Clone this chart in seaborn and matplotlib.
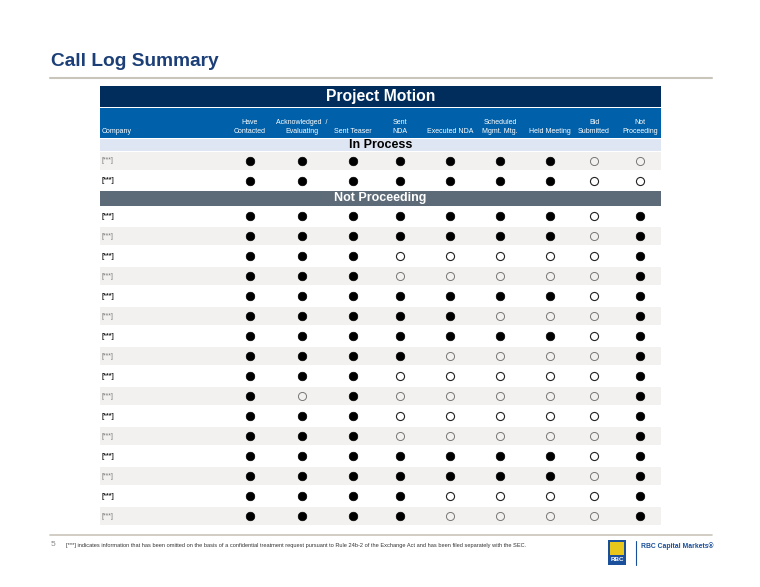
import matplotlib
matplotlib.use("Agg")
import matplotlib.pyplot as plt
import pandas as pd
import seaborn as sns
from matplotlib.patches import Rectangle

# --- data -----------------------------------------------------------------
stages = ["Have\nContacted", "Acknowledged  /\nEvaluating", "Sent Teaser",
          "Sent\nNDA", "Executed NDA", "Scheduled\nMgmt. Mtg.", "Held Meeting",
          "Bid\nSubmitted", "Not\nProceeding"]

company = "[***]"

# 1 = step reached (filled dot), 0 = not reached (open circle)
in_process = [
    [1, 1, 1, 1, 1, 1, 1, 0, 0],
    [1, 1, 1, 1, 1, 1, 1, 0, 0],
]
not_proceeding = [
    [1, 1, 1, 1, 1, 1, 1, 0, 1],
    [1, 1, 1, 1, 1, 1, 1, 0, 1],
    [1, 1, 1, 0, 0, 0, 0, 0, 1],
    [1, 1, 1, 0, 0, 0, 0, 0, 1],
    [1, 1, 1, 1, 1, 1, 1, 0, 1],
    [1, 1, 1, 1, 1, 0, 0, 0, 1],
    [1, 1, 1, 1, 1, 1, 1, 0, 1],
    [1, 1, 1, 1, 0, 0, 0, 0, 1],
    [1, 1, 1, 0, 0, 0, 0, 0, 1],
    [1, 0, 1, 0, 0, 0, 0, 0, 1],
    [1, 1, 1, 0, 0, 0, 0, 0, 1],
    [1, 1, 1, 0, 0, 0, 0, 0, 1],
    [1, 1, 1, 1, 1, 1, 1, 0, 1],
    [1, 1, 1, 1, 1, 1, 1, 0, 1],
    [1, 1, 1, 1, 0, 0, 0, 0, 1],
    [1, 1, 1, 1, 0, 0, 0, 0, 1],
]

# --- layout (pixels) ------------------------------------------------------
col_x = [250, 302, 353, 400, 450, 500, 550, 594, 640]
tbl_l, tbl_r = 100, 661
row_h = 20
ip_top = 151      # first "In Process" row top
np_top = 206      # first "Not Proceeding" row top

NAVY = "#002d5c"
BLUE = "#0060a9"
LIGHT = "#dfe6f3"
SLATE = "#5d6a78"
ZEBRA = "#f2f1ef"
TITLE = "#1c3f78"
RULE = "#c9c5bb"

sns.set_style("white")
plt.rcParams["font.family"] = ["Liberation Sans", "DejaVu Sans"]

fig = plt.figure(figsize=(7.6, 5.87), dpi=100)
ax = fig.add_axes([0, 0, 1, 1])

# build tidy table of marks
records = []
zebra = []
for i, row in enumerate(in_process):
    yc = ip_top + i * row_h + row_h / 2
    zebra.append((yc, i % 2 == 0))
    for j, v in enumerate(row):
        records.append({"x": col_x[j], "y": yc, "done": v, "shade": i % 2 == 0})
for i, row in enumerate(not_proceeding):
    yc = np_top + i * row_h + row_h / 2
    zebra.append((yc, i % 2 == 1))
    for j, v in enumerate(row):
        records.append({"x": col_x[j], "y": yc, "done": v, "shade": i % 2 == 1})
df = pd.DataFrame(records)

# title + rules
ax.text(51, 61, "Call Log Summary", fontsize=13.8, fontweight="bold",
        color=TITLE, va="center", ha="left")
ax.plot([50, 712], [78, 78], color=RULE, lw=1.5)
ax.plot([50, 712], [535, 535], color=RULE, lw=1.2)

# header bands
ax.add_patch(Rectangle((tbl_l, 86), tbl_r - tbl_l, 21, color=NAVY, lw=0))
ax.add_patch(Rectangle((tbl_l, 108), tbl_r - tbl_l, 30, color=BLUE, lw=0))
ax.add_patch(Rectangle((tbl_l, 139), tbl_r - tbl_l, 12, color=LIGHT, lw=0))
ax.add_patch(Rectangle((tbl_l, 191), tbl_r - tbl_l, 15, color=SLATE, lw=0))

ax.text((tbl_l + tbl_r) / 2, 97, "Project Motion", color="white",
        fontsize=11.3, fontweight="bold", ha="center", va="center")
ax.text(102, 135, "Company", color="white", fontsize=5, ha="left", va="bottom")
for x, lab in zip(col_x, stages):
    ax.text(x, 135, lab, color="white", fontsize=5, ha="center",
            va="bottom", linespacing=1.4)
ax.text((tbl_l + tbl_r) / 2, 144.5, "In Process", color="black",
        fontsize=9, fontweight="bold", ha="center", va="center")
ax.text((tbl_l + tbl_r) / 2, 198.5, "Not Proceeding", color="white",
        fontsize=9, fontweight="bold", ha="center", va="center")

# zebra rows + company labels
for yc, shaded in zebra:
    if shaded:
        ax.add_patch(Rectangle((tbl_l, yc - row_h / 2 + 1), tbl_r - tbl_l,
                               row_h - 2, color=ZEBRA, lw=0))
    ax.text(102, yc, company, fontsize=5, va="center", ha="left",
            color="#777777" if shaded else "#222222",
            fontweight="normal" if shaded else "bold")

# markers
sns.scatterplot(data=df[df["done"] == 1], x="x", y="y", ax=ax, s=38,
                color="black", edgecolor="black", linewidth=0.5,
                marker="o", legend=False, zorder=3)
sns.scatterplot(data=df[(df["done"] == 0) & ~df["shade"]], x="x", y="y", ax=ax,
                s=34, facecolor="white", edgecolor="#222222", linewidth=0.8,
                marker="o", legend=False, zorder=3)
sns.scatterplot(data=df[(df["done"] == 0) & df["shade"]], x="x", y="y", ax=ax,
                s=34, facecolor=ZEBRA, edgecolor="#777777", linewidth=0.7,
                marker="o", legend=False, zorder=3)
ax.set_xlim(0, 760)
ax.set_ylim(587, 0)
ax.axis("off")

# footer
ax.text(51, 545, "5", fontsize=6, color="#888888", ha="left", va="center")
ax.text(66, 545, "[***] indicates information that has been omitted on the basis of a "
        "confidential treatment request pursuant to Rule 24b-2 of the Exchange Act "
        "and has been filed separately with the SEC.",
        fontsize=4.1, color="#333333", ha="left", va="center")

# logo
ax.add_patch(Rectangle((608, 540), 18, 25, color="#1a4f9c", lw=0))
ax.add_patch(Rectangle((610, 542), 14, 13, color="#e8c61a", lw=0))
ax.text(617, 559.5, "RBC", fontsize=4.5, fontweight="bold", color="white",
        ha="center", va="center")
ax.plot([636, 636], [541, 565], color="#1a4f9c", lw=0.8)
ax.text(641, 546, "RBC Capital Markets\u00ae", fontsize=4.9, fontweight="bold",
        color="#1a4f9c", ha="left", va="center")

fig.savefig("out.png", dpi=100)
